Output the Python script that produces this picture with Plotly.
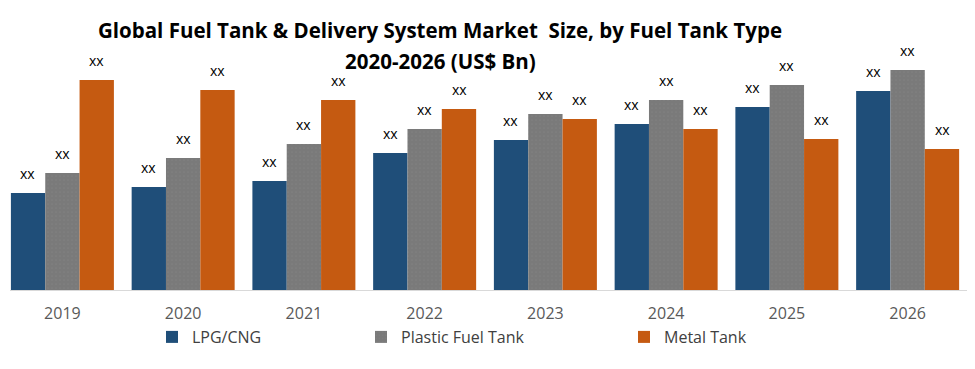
import plotly.graph_objects as go

years = ["2019", "2020", "2021", "2022", "2023", "2024", "2025", "2026"]
lpg_cng = [97, 103, 109, 137, 150, 166, 183, 199]
plastic_fuel_tank = [117, 132, 146, 161, 176, 190, 205, 220]
metal_tank = [210, 200, 190, 181, 171, 161, 151, 141]
bar_labels = ["xx"] * len(years)

title_line1 = "Global Fuel Tank & Delivery System Market  Size, by Fuel Tank Type"
title_line2 = "2020-2026 (US$ Bn)"

# the page body adds an 8px offset, so the figure is drawn 8px smaller
W, H = 967, 361

series = [
    ("LPG/CNG", lpg_cng, "#1F4E79", "legend", 144),
    ("Plastic Fuel Tank", plastic_fuel_tank, "#7A7A7A", "legend2", 353),
    ("Metal Tank", metal_tank, "#C55A11", "legend3", 616),
]

fig = go.Figure()
for name, vals, color, leg, _ in series:
    marker = dict(color=color, line=dict(width=0))
    if name == "Plastic Fuel Tank":
        marker["pattern"] = dict(shape=".", fgcolor="#888888", size=4, solidity=0.15)
    fig.add_trace(go.Bar(name=name, x=years, y=vals, marker=marker,
                         legend=leg, showlegend=True))

annotations = []
for i, (name, vals, color, leg, _) in enumerate(series):
    for j, (v, t) in enumerate(zip(vals, bar_labels)):
        annotations.append(dict(
            x=j, y=v, text=t, showarrow=False, xref="x", yref="y",
            xshift=(i - 1) * 34.5, yshift=20, yanchor="middle",
            font=dict(family="Open Sans", size=14, color="#000000"),
        ))

annotations.append(dict(
    text="<b>" + title_line2 + "</b>", showarrow=False,
    xref="paper", yref="paper", x=(432 - 2) / 958, y=(282 - 53) / 240,
    xanchor="center", yanchor="middle",
    font=dict(family="Open Sans", size=20.5, color="#000000"),
))

legend_common = dict(
    orientation="h", xref="container", yref="container",
    y=1 - 329 / H, yanchor="middle", xanchor="left",
    font=dict(family="Open Sans", size=16, color="#404040"),
    bgcolor="rgba(0,0,0,0)", borderwidth=0,
)
legends = {}
for name, vals, color, leg, lx in series:
    legends[leg] = dict(legend_common, x=lx / W)

fig.update_layout(
    width=W, height=H,
    margin=dict(l=2, r=7, t=42, b=79, autoexpand=False),
    paper_bgcolor="white", plot_bgcolor="white",
    barmode="group", bargap=0.147, bargroupgap=0,
    showlegend=True,
    title=dict(
        text="<b>" + title_line1 + "</b>",
        x=432 / W, xanchor="center", y=1 - 23 / H, yanchor="middle",
        font=dict(family="Open Sans", size=20.5, color="#000000"),
    ),
    xaxis=dict(
        type="category", range=[-0.434, len(years) - 0.5], autorange=False,
        automargin=False,
        showline=True, linecolor="#D9D9D9", linewidth=1,
        ticks="outside", ticklen=9, tickcolor="rgba(0,0,0,0)",
        tickfont=dict(family="Open Sans", size=16, color="#595959"),
        showgrid=False,
    ),
    yaxis=dict(range=[0, 240], visible=False, showgrid=False, automargin=False),
    annotations=annotations,
    **legends,
)

fig.write_html("out.html")
